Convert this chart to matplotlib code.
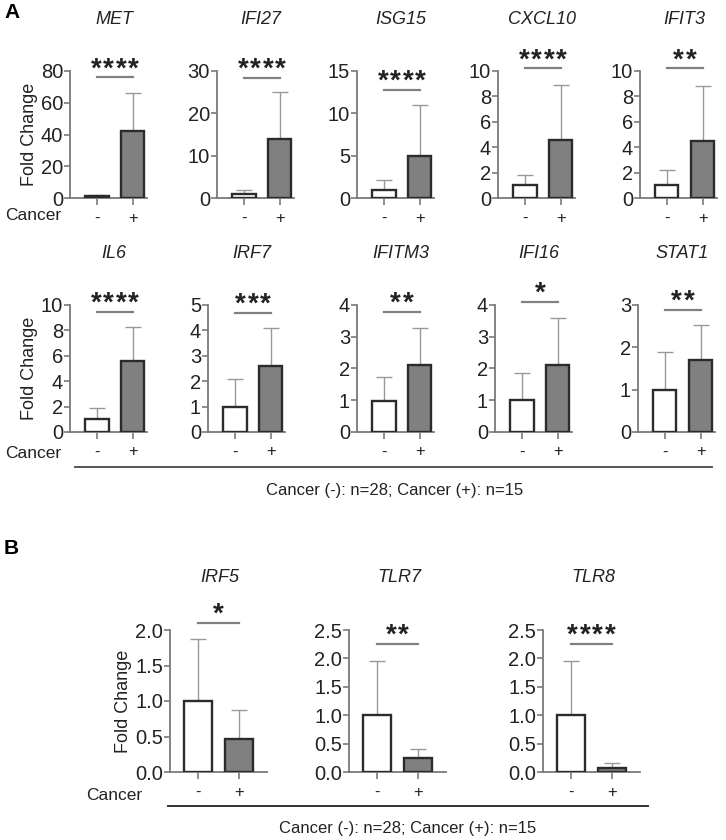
import numpy as np
import matplotlib
matplotlib.use("Agg")
import matplotlib.pyplot as plt

plt.rcParams['font.family'] = ['Liberation Sans', 'DejaVu Sans']

# data: mean, upper error (SD), significance, bracket height
genes_a = ["MET", "IFI27", "ISG15", "CXCL10", "IFIT3",
           "IL6", "IRF7", "IFITM3", "IFI16", "STAT1"]
means_a = [[1.0, 42.0], [0.9, 14.0], [0.95, 5.0], [1.0, 4.6], [1.0, 4.45],
           [1.0, 5.6], [1.0, 2.6], [0.97, 2.1], [1.0, 2.1], [1.0, 1.7]]
sd_a = [[0.6, 24.0], [1.0, 11.0], [1.15, 6.0], [0.85, 4.3], [1.2, 4.4],
        [0.9, 2.65], [1.1, 1.5], [0.77, 1.17], [0.85, 1.48], [0.9, 0.82]]
ymax_a = [80, 30, 15, 10, 10, 10, 5, 4, 4, 3]
ystep_a = [20, 10, 5, 2, 2, 2, 1, 1, 1, 1]
stars_a = [4, 4, 4, 4, 2, 4, 3, 2, 1, 2]
bracket_a = [76, 28.3, 12.8, 10.2, 10.2, 9.45, 4.7, 3.78, 4.09, 2.88]

genes_b = ["IRF5", "TLR7", "TLR8"]
means_b = [[1.0, 0.47], [1.0, 0.24], [1.0, 0.07]]
sd_b = [[0.87, 0.40], [0.95, 0.16], [0.95, 0.08]]
ymax_b = [2.0, 2.5, 2.5]
stars_b = [1, 2, 4]
bracket_b = [2.1, 2.25, 2.25]

W, H = 726, 840
fig = plt.figure(figsize=(W / 100, H / 100), dpi=100)

def px(x, y, w, h):
    # pixel box (top-left origin) -> figure fraction
    return [x / W, 1 - (y + h) / H, w / W, h / H]

spine_c = "#7a7a7a"
edge_c = "#2b2b2b"
txt_c = "#222222"
tick_fs = 14.5


def draw(ax, mean, sd, ymax, step, nstars, yb, xlim, width, fmt=None):
    x = np.arange(2)
    ax.bar(x, mean, width=width, color=["white", "#808080"],
           edgecolor=edge_c, linewidth=1.7, zorder=3)
    ax.errorbar(x, mean, yerr=[[0, 0], sd], fmt="none", ecolor="#999999",
                elinewidth=1.0, capsize=6, capthick=1.0, zorder=2)
    ax.set_xlim(*xlim)
    ax.set_ylim(0, ymax)
    ticks = np.arange(0, ymax + step / 2, step)
    ax.set_yticks(ticks)
    if fmt:
        ax.set_yticklabels([fmt.format(t) for t in ticks])
    ax.set_xticks(x)
    ax.set_xticklabels(["-", "+"])
    for s in ["top", "right"]:
        ax.spines[s].set_visible(False)
    for s in ["left", "bottom"]:
        ax.spines[s].set_color(spine_c)
        ax.spines[s].set_linewidth(1.3)
    ax.tick_params(axis="y", colors=spine_c, labelcolor=txt_c,
                   labelsize=tick_fs, length=4, width=1.2, pad=1)
    ax.tick_params(axis="x", colors=spine_c, labelcolor=txt_c,
                   labelsize=12, length=5, width=1.2, pad=4)
    ax.plot([0, 1], [yb, yb], color="#808080", lw=1.6, clip_on=False)
    for k in range(nstars):
        ax.annotate("*", xy=(0.5, yb),
                    xytext=((k - (nstars - 1) / 2) * 9, -3.5),
                    textcoords="offset points", ha="center", va="bottom",
                    fontsize=20, fontweight="bold", color=txt_c,
                    annotation_clip=False)


# panel A
lefts_a = [70, 217, 357, 498, 640, 70, 208, 357, 495, 638]
for i, g in enumerate(genes_a):
    top = 71 if i < 5 else 305
    ax = fig.add_axes(px(lefts_a[i], top, 77, 127))
    draw(ax, means_a[i], sd_a[i], ymax_a[i], ystep_a[i], stars_a[i],
         bracket_a[i], (-0.75, 1.39), 0.64)
    fig.text((lefts_a[i] + 44) / W, 1 - (top - 51) / H, g, ha="center",
             va="center", fontsize=13, style="italic", color=txt_c)
    if lefts_a[i] == 70:
        ax.set_ylabel("Fold Change", fontsize=13, color=txt_c, labelpad=2)

for y in [215, 453]:
    fig.text(5 / W, 1 - y / H, "Cancer", ha="left", va="center",
             fontsize=12.5, color=txt_c)

fig.add_artist(plt.Line2D([75 / W, 712 / W], [1 - 467 / H] * 2,
                          color="#555555", lw=1.4))
fig.text(395 / W, 1 - 490 / H, "Cancer (-): n=28; Cancer (+): n=15",
         ha="center", va="center", fontsize=12, color=txt_c)

# panel B
lefts_b = [170, 349, 543]
for i, g in enumerate(genes_b):
    ax = fig.add_axes(px(lefts_b[i], 630, 97, 142))
    draw(ax, means_b[i], sd_b[i], ymax_b[i], 0.5, stars_b[i], bracket_b[i],
         (-0.68, 1.68), 0.66, fmt="{:.1f}")
    fig.text((lefts_b[i] + 50) / W, 1 - 577 / H, g, ha="center",
             va="center", fontsize=13, style="italic", color=txt_c)
    if i == 0:
        ax.set_ylabel("Fold Change", fontsize=13, color=txt_c, labelpad=2)

fig.text(142 / W, 1 - 795 / H, "Cancer", ha="right", va="center",
         fontsize=12.5, color=txt_c)
fig.add_artist(plt.Line2D([168 / W, 648 / W], [1 - 806 / H] * 2,
                          color="#333333", lw=1.4))
fig.text(408 / W, 1 - 829 / H, "Cancer (-): n=28; Cancer (+): n=15",
         ha="center", va="center", fontsize=12, color=txt_c)

fig.text(4 / W, 1 - 12 / H, "A", fontsize=15, fontweight="bold", va="center")
fig.text(4 / W, 1 - 549 / H, "B", fontsize=15, fontweight="bold", va="center")

fig.savefig("out.png", dpi=100)
